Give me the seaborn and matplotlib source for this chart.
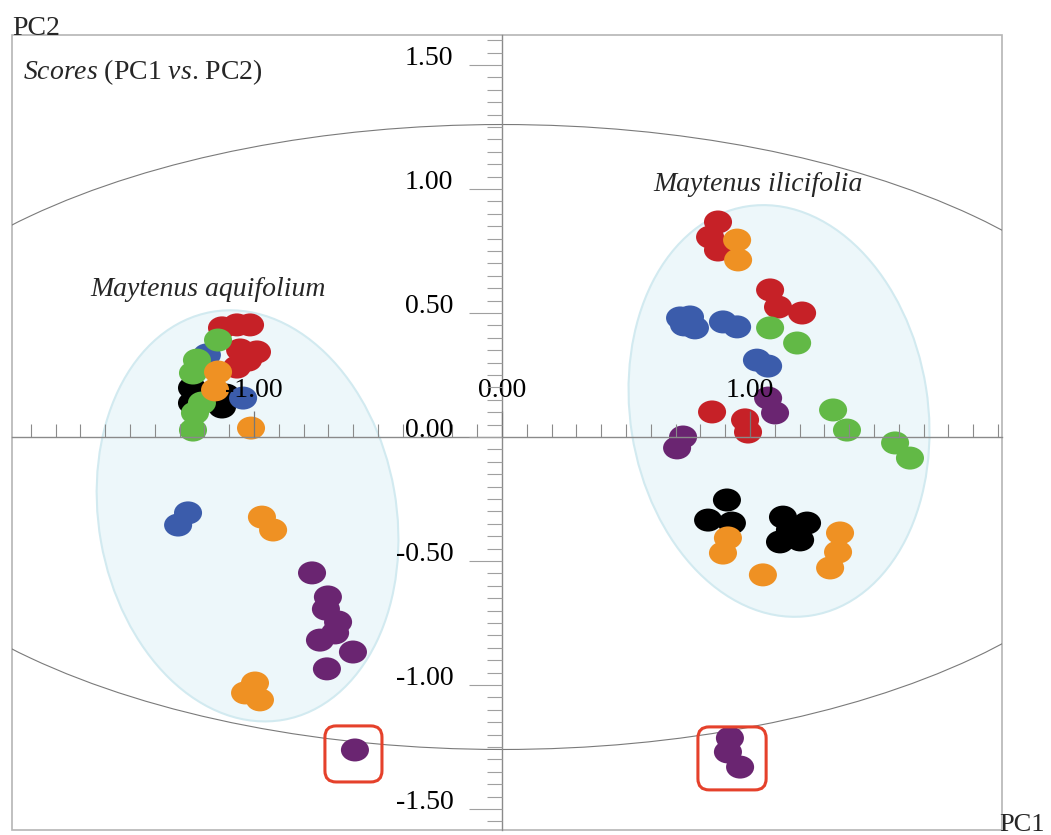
import matplotlib
matplotlib.use("Agg")
import matplotlib.pyplot as plt
import numpy as np
import pandas as pd
import seaborn as sns
from matplotlib.patches import Ellipse, FancyBboxPatch, Rectangle
from matplotlib.path import Path
from matplotlib.ticker import FixedLocator, MultipleLocator

# PCA scores (PC1, PC2) per sample group
black_x = [0.907, 0.831, 0.927, 1.133, 1.230, 1.121, 1.202, 1.161,
           -1.250, -1.250, -1.129, -1.113]
black_y = [-0.254, -0.335, -0.347, -0.323, -0.347, -0.423, -0.415, -0.375,
           0.198, 0.137, 0.121, 0.169]

blue_x = [0.718, 0.758, 0.778, 0.734, 0.891, 0.948, 1.028, 1.073,
          -1.190, -1.044, -1.266, -1.306]
blue_y = [0.480, 0.484, 0.440, 0.452, 0.464, 0.444, 0.310, 0.286,
          0.331, 0.157, -0.306, -0.355]

red_x = [0.871, 0.839, 0.871, 1.081, 1.113, 1.210, 0.847, 0.980, 0.992,
         -1.129, -1.069, -1.016, -1.056, -0.988, -1.069, -1.024]
red_y = [0.867, 0.806, 0.754, 0.593, 0.524, 0.500, 0.101, 0.069, 0.020,
         0.440, 0.452, 0.452, 0.351, 0.343, 0.282, 0.310]

green_x = [1.081, 1.190, 1.335, 1.391, 1.585, 1.645,
           -1.145, -1.230, -1.246, -1.210, -1.238, -1.246]
green_y = [0.440, 0.379, 0.109, 0.028, -0.024, -0.085,
           0.391, 0.310, 0.258, 0.137, 0.097, 0.028]

orange_x = [0.948, 0.952, 0.911, 0.891, 1.052, 1.363, 1.355, 1.323,
            -1.145, -1.157, -1.012, -0.968, -0.923, -0.996, -1.036, -0.976]
orange_y = [0.794, 0.714, -0.407, -0.468, -0.556, -0.387, -0.464, -0.528,
            0.262, 0.190, 0.036, -0.323, -0.375, -0.992, -1.032, -1.060]

purple_x = [1.073, 1.101, 0.730, 0.706, 0.919, 0.911, 0.960,
            -0.766, -0.702, -0.710, -0.661, -0.673, -0.734, -0.601, -0.706, -0.593]
purple_y = [0.157, 0.097, 0.000, -0.044, -1.214, -1.270, -1.331,
            -0.548, -0.645, -0.694, -0.746, -0.790, -0.819, -0.867, -0.935, -1.262]

group_order = ["black", "blue", "red", "green", "orange", "purple"]
group_colors = {
    "black": "#000000",
    "blue": "#3B5CAB",
    "red": "#C62127",
    "green": "#62B946",
    "orange": "#EF9123",
    "purple": "#6A2571",
}

x_tick_values = [-1.0, 0.0, 1.0]
x_tick_labels = ["-1.00", "0.00", "1.00"]
y_tick_values = [-1.5, -1.0, -0.5, 0.0, 0.5, 1.0, 1.5]
y_tick_labels = ["-1.50", "-1.00", "-0.50", "0.00", "0.50", "1.00", "1.50"]

species_labels = ["Maytenus aquifolium", "Maytenus ilicifolia"]

series = {
    "black": (black_x, black_y),
    "blue": (blue_x, blue_y),
    "red": (red_x, red_y),
    "green": (green_x, green_y),
    "orange": (orange_x, orange_y),
    "purple": (purple_x, purple_y),
}
scores = pd.concat(
    [pd.DataFrame({"PC1": series[g][0], "PC2": series[g][1], "group": g})
     for g in group_order],
    ignore_index=True,
)

sns.set_theme(style="white")
plt.rcParams["font.family"] = ["Liberation Serif", "DejaVu Serif"]
plt.rcParams["mathtext.fontset"] = "custom"
plt.rcParams["mathtext.rm"] = "Liberation Serif"
plt.rcParams["mathtext.it"] = "Liberation Serif:italic"

fig = plt.figure(figsize=(10.51, 8.35), dpi=100)
ax = fig.add_axes([12 / 1051, 5 / 835, 990 / 1051, 795 / 835])
ax.set_xlim(-1.9758, 2.0161)
ax.set_ylim(-1.5847, 1.6210)

# Hotelling T2 confidence ellipse
ax.add_patch(Ellipse((0, 0), width=2 * 2.69, height=2 * 1.26, fill=False,
                     edgecolor="#7a7a7a", linewidth=0.8, zorder=1))

# species group ellipses
for center, angle in (((-1.026, -0.318), 10), ((1.117, 0.105), 9)):
    ax.add_patch(Ellipse(center, width=2 * 0.600, height=2 * 0.835, angle=angle,
                         facecolor="#EDF7FA", edgecolor="#D2EAF0",
                         linewidth=1.5, zorder=0.8))

# slightly wide oval marker
circle = Path.unit_circle()
oval = Path(circle.vertices * np.array([1.22, 1.0]), circle.codes)

sns.scatterplot(data=scores, x="PC1", y="PC2", hue="group", hue_order=group_order,
                palette=group_colors, marker=oval, s=408, linewidth=0,
                edgecolor="none", legend=False, ax=ax, zorder=2)

# highlighted outlying samples
for (x0, y0, w, h) in ((-0.714, -1.391, 0.230, 0.226), (0.790, -1.423, 0.275, 0.254)):
    ax.add_patch(FancyBboxPatch((x0, y0), w, h,
                                boxstyle="round,pad=0,rounding_size=0.045",
                                fill=False, edgecolor="#E5412B", linewidth=2.2,
                                zorder=3))

# axes crossing at the origin, drawn above the marks
ax.set_axisbelow(False)
for side in ("top", "right"):
    ax.spines[side].set_visible(False)
ax.spines["left"].set_position(("data", 0))
ax.spines["bottom"].set_position(("data", 0))
for side in ("left", "bottom"):
    ax.spines[side].set_color("#8a8a8a")
    ax.spines[side].set_linewidth(1.0)
ax.add_patch(Rectangle((0, 0), 1, 1, transform=ax.transAxes, fill=False,
                       edgecolor="#b5b5b5", linewidth=1.2, clip_on=False,
                       zorder=0.5))

ax.xaxis.set_major_locator(FixedLocator(x_tick_values))
ax.xaxis.set_minor_locator(MultipleLocator(0.1))
ax.yaxis.set_major_locator(FixedLocator(y_tick_values))
ax.yaxis.set_minor_locator(MultipleLocator(0.05))
ax.set_xticklabels(x_tick_labels)
ax.set_yticklabels(y_tick_labels)

ax.tick_params(axis="x", which="both", bottom=True, top=False)
ax.tick_params(axis="y", which="both", left=True, right=False)
ax.tick_params(axis="x", which="major", direction="in", length=19, width=0.9,
               color="#777777", pad=-29, labelsize=20, labelcolor="black")
ax.tick_params(axis="x", which="minor", direction="in", length=9.5, width=0.8,
               color="#8a8a8a")
ax.tick_params(axis="y", which="major", direction="out", length=24, width=0.8,
               color="#a0a0a0", pad=11, labelsize=20, labelcolor="black")
ax.tick_params(axis="y", which="minor", direction="out", length=11, width=0.8,
               color="#a0a0a0")
for lab in ax.get_xticklabels() + ax.get_yticklabels():
    lab.set_verticalalignment("baseline")

ax.set_xlabel("")
ax.set_ylabel("")

ax.text(-1.931, 1.472, r"$\mathit{Scores}$ (PC1 $\mathit{vs}$. PC2)",
        fontsize=20, ha="left", va="center")
ax.text(-1.661, 0.593, species_labels[0], fontsize=20, style="italic",
        ha="left", va="center")
ax.text(0.609, 1.020, species_labels[1], fontsize=20, style="italic",
        ha="left", va="center")

fig.text(12 / 1051, (835 - 35) / 835, "PC2", fontsize=20, ha="left", va="baseline")
fig.text(999 / 1051, 4 / 835, "PC1", fontsize=19, ha="left", va="baseline")

fig.savefig("out.png", dpi=100)
